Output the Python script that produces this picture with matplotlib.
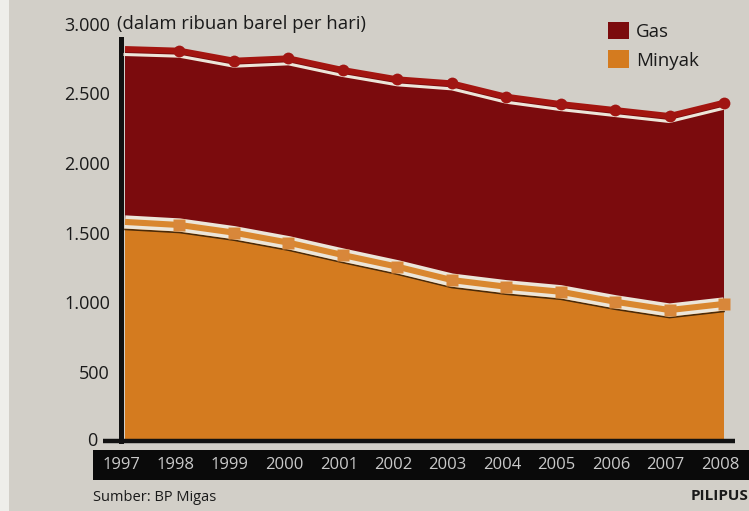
import matplotlib
matplotlib.use("Agg")
import matplotlib.pyplot as plt
from matplotlib import transforms
from matplotlib.patches import Rectangle

# production, thousand barrels per day
years = [1997, 1998, 1999, 2000, 2001, 2002, 2003, 2004, 2005, 2006, 2007, 2008]
minyak = [1576, 1554, 1499, 1427, 1338, 1254, 1158, 1110, 1074, 1002, 942, 986]
gas = [1244, 1254, 1237, 1326, 1331, 1348, 1415, 1367, 1350, 1379, 1396, 1448]

y_ticks = [0, 500, 1000, 1500, 2000, 2500, 3000]
y_labels = ["0", "500", "1.000", "1.500", "2.000", "2.500", "3.000"]

total = [m + g for m, g in zip(minyak, gas)]

bg = "#d2cfc8"
c_minyak = "#d47b1f"
c_gas = "#7b0b0d"
c_red_line = "#a31510"
ink = "#1a1a1a"

plt.rcParams["font.family"] = ["Open Sans", "DejaVu Sans"]

W, H = 749, 511
fig = plt.figure(figsize=(W / 100, H / 100), dpi=100, facecolor=bg)
ax = fig.add_axes([125 / W, 70 / H, 599 / W, 417 / H])
ax.patch.set_visible(False)
ax.set_zorder(3)

# stacked areas
polys = ax.stackplot(years, minyak, gas, colors=[c_minyak, c_gas],
                     labels=["Minyak", "Gas"], lw=0)

# oil boundary: white band with orange core and dark edge underneath
down = lambda px: transforms.offset_copy(ax.transData, fig, x=0, y=-px, units="dots")
ax.plot(years, minyak, color="#4a2a08", lw=1.2, transform=down(7.5), clip_on=False, zorder=3)
ax.plot(years, minyak, color="#ece6da", lw=9.5, solid_capstyle="butt", clip_on=False, zorder=4)
ax.plot(years, minyak, color="#d9872f", lw=4.4, solid_capstyle="butt", clip_on=False, zorder=5)
ax.plot(years[1:], minyak[1:], "s", ms=8.5, color="#d8873a", mec="none", clip_on=False, zorder=6)

# total boundary: red line with a thin white line below
ax.plot(years, total, color="#ece6da", lw=2.2, transform=down(5.5), clip_on=False, zorder=4)
ax.plot(years, total, color=c_red_line, lw=4.3, solid_capstyle="butt", clip_on=False, zorder=5)
ax.plot(years[1:], total[1:], "o", ms=8.5, color="#a01512", mec="none", clip_on=False, zorder=6)

ax.set_xlim(1997, 2008)
ax.set_ylim(0, 3000)
ax.set_xticks([])
ax.set_yticks(y_ticks)
# the zero is drawn by hand further left, where the baseline has not begun yet
ax.set_yticklabels([""] + y_labels[1:])
ax.tick_params(axis="y", length=0, pad=8, labelsize=13, labelcolor=ink)
ax.text(-28 / 599, y_ticks[0], y_labels[0], transform=ax.get_yaxis_transform(),
        ha="right", va="center", fontsize=13, color=ink)

for s in ["top", "right", "bottom"]:
    ax.spines[s].set_visible(False)
ax.spines["left"].set_position(("outward", 2.9))
ax.spines["left"].set_bounds(0, 2892)
ax.spines["left"].set_linewidth(3.6)
ax.spines["left"].set_color("#111111")

# baseline running past both ends
ax.plot([-22 / 599, 610 / 599], [0, 0], transform=ax.get_yaxis_transform(),
        color="#111111", lw=3.2, solid_capstyle="butt", clip_on=False, zorder=7)

ax.text(-8 / 599, 3000, "(dalam ribuan barel per hari)", transform=ax.get_yaxis_transform(),
        ha="left", va="center", fontsize=13.3, color=ink)

# black strip with the years
fig.patches.append(Rectangle((93 / W, 31 / H), 656 / W, 30 / H, transform=fig.transFigure,
                             facecolor="#0a0a0a", edgecolor="none", zorder=1))
fig.patches.append(Rectangle((0, 0), 9 / W, 1, transform=fig.transFigure,
                             facecolor="#eeeeea", edgecolor="none", zorder=1))
year_tr = transforms.offset_copy(ax.get_xaxis_transform(), fig, x=-4, y=0, units="dots")
for yr in years:
    ax.text(yr, -24 / 417, str(yr), transform=year_tr, ha="center", va="center",
            fontsize=12, color="#c9c9c9", clip_on=False)

# legend
handles = [polys[1], polys[0]]
ax.legend(handles=handles, labels=["Gas", "Minyak"], loc="upper left",
          bbox_to_anchor=(608 / W, 1 - 22 / H), bbox_transform=fig.transFigure,
          frameon=False, fontsize=13.5, handlelength=1.1, handleheight=1.05,
          handletextpad=0.38, labelspacing=0.5, borderpad=0, borderaxespad=0,
          labelcolor=ink)

fig.text(93 / W, 1 - 497 / H, "Sumber: BP Migas", fontsize=10.5, color=ink,
         ha="left", va="center")
fig.text(748 / W, 1 - 496 / H, "PILIPUS", fontsize=11, fontweight="bold", color=ink,
         ha="right", va="center")

fig.savefig("out.png", dpi=100, facecolor=fig.get_facecolor())
